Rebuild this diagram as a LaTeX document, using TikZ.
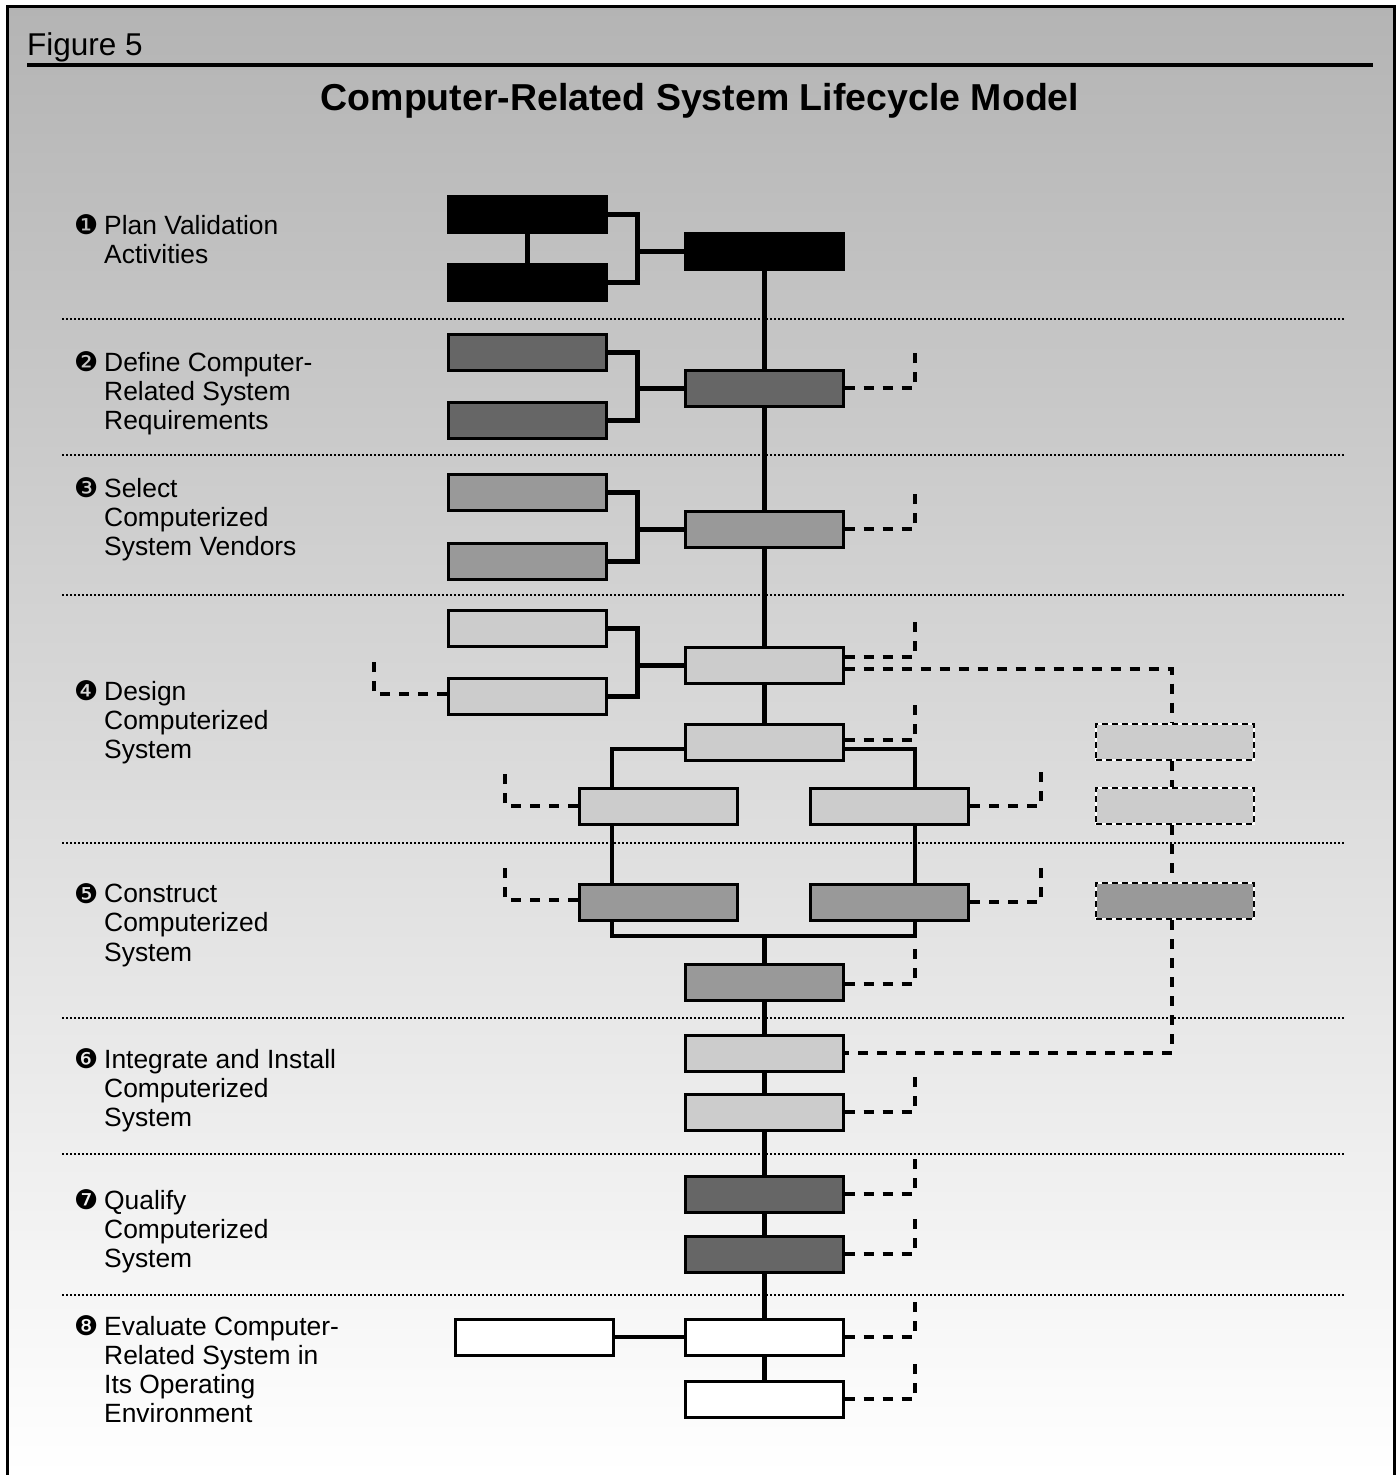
\documentclass[tikz,border=0pt]{standalone}
\usepackage{fontspec}
\setmainfont{Liberation Sans}
\newfontfamily\dingfont{DejaVu Sans}
\usepackage{xcolor}
\definecolor{bgtop}{HTML}{B4B4B4}
\definecolor{darkfill}{HTML}{666666}
\definecolor{midfill}{HTML}{999999}
\definecolor{lightfill}{HTML}{CCCCCC}
\usetikzlibrary{calc}
\tikzset{
  box/.style      ={draw=black,line width=3pt,minimum width=158pt,
                    minimum height=36pt,inner sep=0pt},
  blackbox/.style ={box,fill=black},
  darkbox/.style  ={box,fill=darkfill},
  midbox/.style   ={box,fill=midfill},
  lightbox/.style ={box,fill=lightfill},
  whitebox/.style ={box,fill=white},
  extbox/.style   ={box,draw=white,line width=2.5pt,
                    postaction={draw=black,line width=2.5pt,dash pattern=on 6pt off 4pt}},
  spine/.style    ={line width=5pt},
  link/.style     ={line width=3.5pt},
  feed/.style     ={line width=4pt,dash pattern=on 10pt off 9pt},
  sep/.style      ={line width=1.6pt,dash pattern=on 1.6pt off 2.4pt},
  stage/.style    ={anchor=north west,align=left,inner sep=0pt,
                    font=\fontsize{26.4}{29.2}\selectfont},
  num/.style      ={anchor=base west,inner sep=0pt,font=\fontsize{27}{30}\dingfont},
}

\begin{document}
\begin{tikzpicture}[x=1pt,y=-1pt]
\useasboundingbox (0,0) rectangle (1397,1475);
\shade[top color=bgtop,bottom color=white] (7,6) rectangle (1394,1475);
\draw[line width=3pt] (7,1480) -- (7,6.5) -- (1394,6.5) -- (1394,1480);
\node[anchor=base west,inner sep=0pt,font=\fontsize{31.5}{35}\selectfont] (fig) at (27,55) {Figure 5};
\draw[line width=3.5pt] (27,65) -- (1373,65);
\node[anchor=base,inner sep=0pt,font=\fontsize{37.5}{42}\selectfont\bfseries] (title) at (700,110)
  {Computer-Related System Lifecycle Model};
\foreach \y in {319,455,595,843,1018,1154,1295} \draw[sep] (62,\y) -- (1345,\y);

% stage names
\node[num] (n1) at (74,234) {❶}; \node[stage] (s1) at (104,215) {Plan Validation\\Activities};
\node[num] (n2) at (74,371) {❷}; \node[stage] (s2) at (104,352) {Define Computer-\\Related System\\Requirements};
\node[num] (n3) at (74,497) {❸}; \node[stage] (s3) at (104,478) {Select\\Computerized\\System Vendors};
\node[num] (n4) at (74,700) {❹}; \node[stage] (s4) at (104,681) {Design\\Computerized\\System};
\node[num] (n5) at (74,903) {❺}; \node[stage] (s5) at (104,884) {Construct\\Computerized\\System};
\node[num] (n6) at (74,1068) {❻}; \node[stage] (s6) at (104,1049) {Integrate and Install\\Computerized\\System};
\node[num] (n7) at (74,1209) {❼}; \node[stage] (s7) at (104,1190) {Qualify\\Computerized\\System};
\node[num] (n8) at (74,1335) {❽}; \node[stage] (s8) at (104,1316) {Evaluate Computer-\\Related System in\\Its Operating\\Environment};

% boxes
\node[blackbox] (A1a) at (527,214.5) {}; \node[blackbox] (A1b) at (527,282.5) {};
\node[blackbox] (M1) at (764,251) {};
\node[darkbox] (A2a) at (527,352) {}; \node[darkbox] (A2b) at (527,420) {};
\node[darkbox] (M2) at (764,388) {};
\node[midbox] (A3a) at (527,492) {}; \node[midbox] (A3b) at (527,561) {};
\node[midbox] (M3) at (764,529) {};
\node[lightbox] (A4a) at (527,628) {}; \node[lightbox] (A4b) at (527,696) {};
\node[lightbox] (M4a) at (764,665) {};
\node[lightbox] (M4b) at (764,742) {};
\node[lightbox] (M4c) at (658,806) {}; \node[lightbox] (M4d) at (889.5,806) {};
\node[extbox,fill=lightfill] (R1) at (1175,742) {};
\node[extbox,fill=lightfill] (R2) at (1175,806) {};
\node[extbox,fill=midfill] (R3) at (1175,901) {};
\node[midbox] (M5a) at (658,902) {}; \node[midbox] (M5b) at (889.5,902) {};
\node[midbox] (M5c) at (764,982) {};
\node[lightbox] (M6a) at (764,1053) {}; \node[lightbox] (M6b) at (764,1112) {};
\node[darkbox] (M7a) at (764,1194) {}; \node[darkbox] (M7b) at (764,1254) {};
\node[whitebox] (A8) at (534,1337) {};
\node[whitebox] (M8a) at (764,1337) {}; \node[whitebox] (M8b) at (764,1399) {};

% solid links
\coordinate (xb) at (637,0);
\coordinate (xl) at (612,0);
\coordinate (xr) at (915,0);
\coordinate (merge) at (764,936);
\draw[spine] (A1a) -- (A1b);
\foreach \a/\b/\m in {A1a/A1b/M1,A2a/A2b/M2,A3a/A3b/M3,A4a/A4b/M4a} {
  \draw[spine] (\a.east) -| (xb |- \b.east) -- (\b.east);
  \draw[spine] (xb |- \m.west) -- (\m.west);
}
\foreach \a/\b in {M1/M2,M2/M3,M3/M4a,M4a/M4b,M5c/M6a,M6a/M6b,M6b/M7a,M7a/M7b,M7b/M8a,M8a/M8b}
  \draw[spine] (\a) -- (\b);
\draw[link] ([yshift=-7pt]M4b.west) -| (xl |- M4c.north);
\draw[link] ([yshift=-7pt]M4b.east) -| (xr |- M4d.north);
\draw[link] (xl |- M4c.south) -- (xl |- M5a.north);
\draw[link] (xr |- M4d.south) -- (xr |- M5b.north);
\draw[link] (xl |- M5a.south) |- (merge) -| (xr |- M5b.south);
\draw[spine] (merge) -- (M5c);
\draw[link] (A8) -- (M8a);

% dashed feeds
\foreach \b/\dy in {M2/0,M3/0,M4a/8,M4b/2,M5c/-2,M6b/0,M7a/0,M7b/0,M8a/0,M8b/0} {
  \coordinate (\b-up) at ($([yshift=\dy pt]\b.east)+(70,-37)$);
  \draw[feed] ([yshift=\dy pt]\b.east) -| (\b-up);
}
\foreach \b in {M4d,M5b} {
  \coordinate (\b-up) at ($(\b.east)+(71,-35)$);
  \draw[feed] (\b.east) -| (\b-up);
}
\foreach \b/\dy in {A4b/2,M4c/0,M5a/2} {
  \coordinate (\b-up) at ($([yshift=\dy pt]\b.west)+(-73,-33)$);
  \draw[feed] ([yshift=\dy pt]\b.west) -| (\b-up);
}
\draw[feed] ([yshift=-4pt]M4a.east) -| ([xshift=-3pt]R1.north);
\draw[feed] ([xshift=-3pt]R1.south) -- ([xshift=-3pt]R2.north);
\draw[feed] ([xshift=-3pt]R2.south) -- ([xshift=-3pt]R3.north);
\draw[feed] ([xshift=-3pt]R3.south) |- (M6a.east);
\end{tikzpicture}
\end{document}
